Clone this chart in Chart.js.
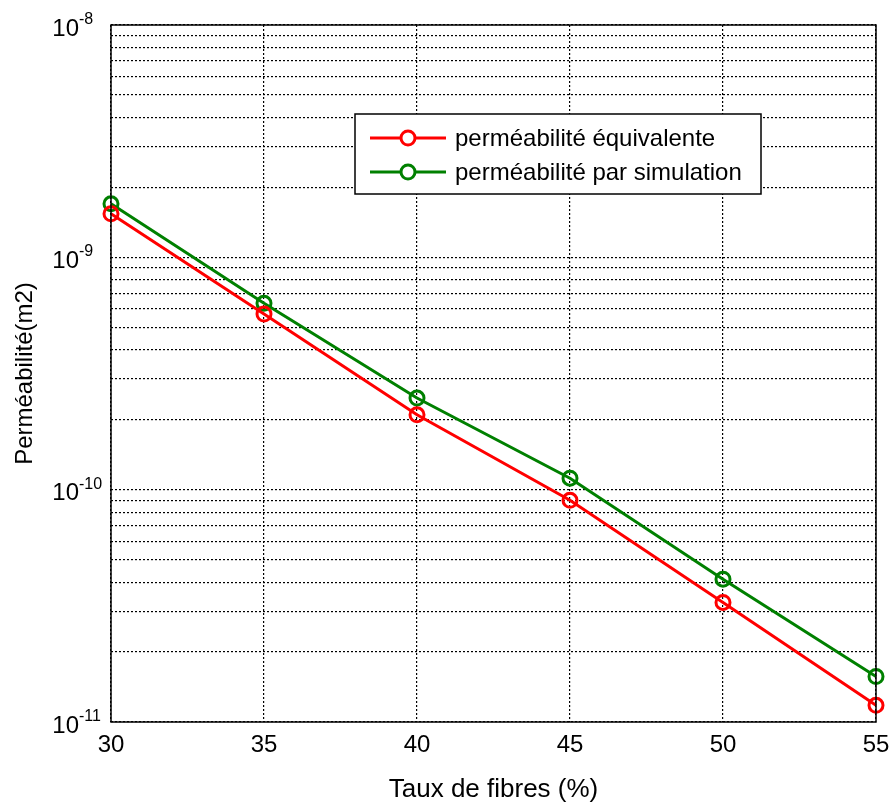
<!DOCTYPE html>
<html lang="fr">
<head>
  <meta charset="UTF-8">
  <title>Perméabilité vs taux de fibres</title>
  <script src="https://cdn.jsdelivr.net/npm/chart.js"></script>
  <style>
    body { margin: 0; background: #fff; }
    #wrap { width: 891px; height: 805px; position: relative; }
  </style>
</head>
<body>
  <div id="wrap"><canvas id="chart"></canvas></div>

  <script>
    // data
    const tauxFibres = [30, 35, 40, 45, 50, 55];
    const permEquivalente = [1.54e-9, 5.7e-10, 2.1e-10, 9.0e-11, 3.27e-11, 1.18e-11];
    const permSimulation = [1.70e-9, 6.34e-10, 2.48e-10, 1.12e-10, 4.12e-11, 1.57e-11];
    const decadeTicks = [-11, -10, -9, -8];
    const seriesLabels = ['perméabilité équivalente', 'perméabilité par simulation'];

    const FONT = '"Liberation Sans", Arial, sans-serif';

    // all minor log ticks 1..9 x 10^n between 1e-11 and 1e-8
    function logTicks() {
      const t = [];
      for (let e = -11; e < -8; e++) {
        for (let m = 1; m <= 9; m++) t.push({ value: m * Math.pow(10, e) });
      }
      t.push({ value: 1e-8 });
      return t;
    }

    // frame, superscript y labels, legend box
    const matlabLook = {
      id: 'matlabLook',
      afterDraw(chart) {
        const ctx = chart.ctx;
        const a = chart.chartArea;
        const ys = chart.scales.y;

        ctx.save();
        ctx.strokeStyle = '#000';
        ctx.lineWidth = 1.5;
        ctx.strokeRect(a.left, a.top, a.right - a.left, a.bottom - a.top);

        // y labels 10^n
        ctx.fillStyle = '#000';
        decadeTicks.forEach(e => {
          const y = ys.getPixelForValue(Math.pow(10, e));
          ctx.font = '24px ' + FONT;
          ctx.textAlign = 'right';
          ctx.textBaseline = 'alphabetic';
          ctx.fillText('10', 79, y + 10.5);
          ctx.font = '16px ' + FONT;
          ctx.textAlign = 'left';
          ctx.fillText(String(e), 79, y - 1);
        });

        // legend
        const lx = 355, ly = 114, lw = 406, lh = 80;
        ctx.fillStyle = '#fff';
        ctx.fillRect(lx, ly, lw, lh);
        ctx.lineWidth = 1.5;
        ctx.strokeStyle = '#000';
        ctx.strokeRect(lx, ly, lw, lh);
        chart.data.datasets.forEach((ds, i) => {
          const cy = 138 + i * 34;
          ctx.strokeStyle = ds.borderColor;
          ctx.lineWidth = 3;
          ctx.beginPath();
          ctx.moveTo(370, cy);
          ctx.lineTo(446, cy);
          ctx.stroke();
          ctx.beginPath();
          ctx.arc(408, cy, 7, 0, Math.PI * 2);
          ctx.fillStyle = '#fff';
          ctx.fill();
          ctx.stroke();
          ctx.fillStyle = '#000';
          ctx.font = '24px ' + FONT;
          ctx.textAlign = 'left';
          ctx.textBaseline = 'middle';
          ctx.fillText(ds.label, 455, cy + 1);
        });
        ctx.restore();
      }
    };

    const gridStyle = { color: '#000', lineWidth: 1.2, drawTicks: false };

    new Chart(document.getElementById('chart').getContext('2d'), {
      type: 'line',
      data: {
        labels: tauxFibres,
        datasets: [
          {
            label: seriesLabels[0],
            data: tauxFibres.map((x, i) => ({ x: x, y: permEquivalente[i] })),
            borderColor: '#ff0000',
            backgroundColor: 'rgba(0,0,0,0)',
            borderWidth: 3,
            pointRadius: 7,
            pointBorderWidth: 3,
            pointBackgroundColor: 'rgba(0,0,0,0)',
            tension: 0
          },
          {
            label: seriesLabels[1],
            data: tauxFibres.map((x, i) => ({ x: x, y: permSimulation[i] })),
            borderColor: '#008000',
            backgroundColor: 'rgba(0,0,0,0)',
            borderWidth: 3,
            pointRadius: 7,
            pointBorderWidth: 3,
            pointBackgroundColor: 'rgba(0,0,0,0)',
            tension: 0
          }
        ]
      },
      options: {
        responsive: true,
        maintainAspectRatio: false,
        animation: false,
        clip: false,
        layout: { padding: { top: 25, right: 15, left: 0, bottom: 0 } },
        plugins: { legend: { display: false }, tooltip: { enabled: false } },
        scales: {
          x: {
            type: 'linear',
            min: 30,
            max: 55,
            grid: gridStyle,
            border: { display: false, dash: [2, 2] },
            ticks: { stepSize: 5, color: '#000', padding: 9, font: { family: FONT, size: 24 } },
            title: {
              display: true,
              text: 'Taux de fibres (%)',
              color: '#000',
              padding: { top: 3, bottom: 0 },
              font: { family: FONT, size: 26 }
            },
            afterFit: s => { s.height = 83; s.paddingRight = 0; s.paddingLeft = 0; }
          },
          y: {
            type: 'logarithmic',
            min: 1e-11,
            max: 1e-8,
            grid: gridStyle,
            border: { display: false, dash: [2, 2] },
            ticks: { display: false },
            afterBuildTicks: s => { s.ticks = logTicks(); },
            title: {
              display: true,
              text: 'Perméabilité(m2)',
              color: '#000',
              padding: { top: 11, bottom: 0 },
              font: { family: FONT, size: 24 }
            },
            afterFit: s => { s.width = 111; }
          }
        }
      },
      plugins: [matlabLook]
    });
  </script>
</body>
</html>
